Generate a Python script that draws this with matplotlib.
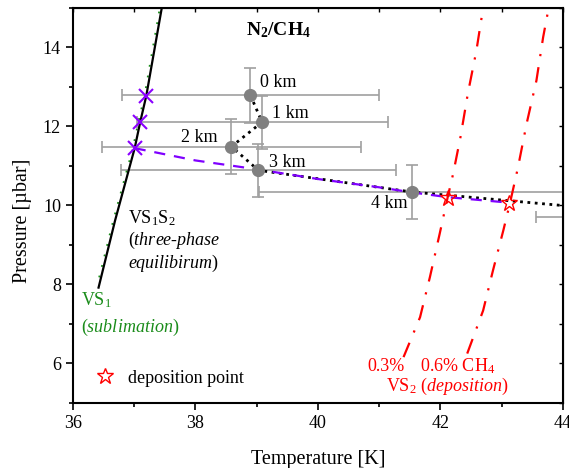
import numpy as np
import matplotlib
matplotlib.use('Agg')
import matplotlib.pyplot as plt
from matplotlib.ticker import MultipleLocator

plt.rcParams['font.family'] = 'Liberation Serif'
plt.rcParams['mathtext.fontset'] = 'custom'
plt.rcParams['mathtext.rm'] = 'Liberation Serif'
plt.rcParams['mathtext.it'] = 'Liberation Serif:italic'
plt.rcParams['mathtext.bf'] = 'Liberation Serif:bold'

# measured points (0..5 km), the 5 km one sits outside the window
alt_labels = ['0 km', '1 km', '2 km', '3 km', '4 km', '5 km']
meas_T = [38.90, 39.09, 38.59, 39.03, 41.54, 46.00]
meas_P = [12.79, 12.11, 11.49, 10.89, 10.34, 9.72]
meas_Terr = [2.10, 2.05, 2.12, 2.24, 2.50, 2.43]
meas_Perr = [0.70, 0.67, 0.69, 0.67, 0.68, 0.68]

# VS1S2 three-phase line and VS1 sublimation line
vs12_T = [36.42, 36.69, 37.01, 37.10, 37.20, 37.45]
vs12_P = [7.92, 9.62, 11.45, 12.11, 12.78, 14.98]
vs1_T = [36.43, 36.66, 36.98, 37.07, 37.17, 37.42]
vs1_P = [8.18, 9.62, 11.45, 12.11, 12.78, 15.00]

# intersections with the three-phase line
cross_T = [37.20, 37.10, 37.01]
cross_P = [12.78, 12.11, 11.45]

# VS2 deposition lines, 0.3 % and 0.6 % CH4
dep03_T = [41.40, 41.67, 41.83, 41.99, 42.12, 42.21, 42.33, 42.45, 42.59, 42.70]
dep03_P = [6.16, 7.17, 8.18, 9.28, 10.20, 10.80, 11.73, 12.83, 13.92, 15.00]
dep06_T = [42.44, 42.70, 42.86, 43.03, 43.14, 43.27, 43.41, 43.57, 43.68, 43.77]
dep06_P = [6.25, 7.34, 8.35, 9.37, 10.07, 10.97, 12.07, 13.16, 14.26, 15.00]

# purple dashed profile
prof_T = [37.01, 38.00, 39.03, 40.00, 41.00, 41.54, 42.12, 43.13]
prof_P = [11.45, 11.14, 10.91, 10.67, 10.46, 10.33, 10.21, 10.07]

star_T = [42.12, 43.13]
star_P = [10.20, 10.07]

fig = plt.figure(figsize=(5.69, 4.68), dpi=100)
ax = fig.add_axes([0.128, 0.139, 0.861, 0.844])

ax.errorbar(meas_T, meas_P, xerr=meas_Terr, yerr=meas_Perr, fmt='none',
            ecolor='#a0a0a0', elinewidth=1.2, capsize=4, capthick=1.2, zorder=2)
ax.plot(meas_T, meas_P, ':', color='black', lw=2, zorder=3)
ax.plot(meas_T, meas_P, 'o', color='#808080', ms=8.5, zorder=4)

ax.plot(vs1_T, vs1_P, color='#1a8c1a', lw=1.3, ls=(0, (1, 5)), zorder=3)
ax.plot(vs12_T, vs12_P, color='black', lw=1.6, zorder=3)

ax.plot(prof_T, prof_P, color='#7f00ff', lw=1.6, ls=(0, (5, 4)), zorder=3)

ax.plot(dep03_T, dep03_P, color='red', lw=1.6, ls=(0, (7, 5, 1, 5)), zorder=3)
ax.plot(dep06_T, dep06_P, color='red', lw=1.6, ls=(0, (7, 5, 1, 5)), zorder=3)

ax.plot(cross_T, cross_P, 'x', color='#8b00ff', ms=10, mew=1.5, zorder=5)
ax.plot(star_T, star_P, '*', color='red', mfc='none', ms=12, mew=1, zorder=5,
        label='deposition point')

# altitude labels
ax.text(39.05, 13.12, alt_labels[0], fontsize=13, va='center', ha='left')
ax.text(39.26, 12.33, alt_labels[1], fontsize=13, va='center', ha='left')
ax.text(38.37, 11.72, alt_labels[2], fontsize=13, va='center', ha='right')
ax.text(39.20, 11.08, alt_labels[3], fontsize=13, va='center', ha='left')
ax.text(41.47, 10.05, alt_labels[4], fontsize=13, va='center', ha='right')

ax.text(39.35, 14.45, r'$\mathbf{N_2/CH_4}$', fontsize=14, ha='center', va='center')

ax.text(36.90, 9.67, r'VS$_1$S$_2$', fontsize=13, va='center')
ax.text(36.90, 9.11, r'($\mathit{three}$-$\mathit{phase}$', fontsize=13, va='center')
ax.text(36.90, 8.52, r'$\mathit{equilibirum}$)', fontsize=13, va='center')

ax.text(36.14, 7.60, r'VS$_1$', fontsize=13, va='center', color='#1a8c1a')
ax.text(36.14, 6.92, r'($\mathit{sublimation}$)', fontsize=13, va='center',
        color='#1a8c1a')

ax.text(41.11, 5.92, '0.3%', fontsize=13, va='center', ha='center', color='red')
ax.text(41.67, 5.92, r'0.6% CH$_4$', fontsize=13, va='center', ha='left', color='red')
ax.text(41.11, 5.42, r'VS$_2$ ($\mathit{deposition}$)', fontsize=13, va='center',
        ha='left', color='red')

ax.legend(loc='lower left', bbox_to_anchor=(0.01, 0.0), frameon=False,
          fontsize=13, handlelength=1.2, handletextpad=0.7, numpoints=1)

ax.set_xlim(36, 44)
ax.set_ylim(5, 15)
ax.xaxis.set_major_locator(MultipleLocator(2))
ax.xaxis.set_minor_locator(MultipleLocator(1))
ax.yaxis.set_major_locator(MultipleLocator(2))
ax.yaxis.set_minor_locator(MultipleLocator(1))
ax.set_yticks([6, 8, 10, 12, 14])
ax.tick_params(which='both', direction='out', top=False, right=False,
               labelsize=13, width=1.2)
ax.tick_params(which='major', length=5)
ax.tick_params(which='minor', length=3)

# inward ticks on top and right
ax_top = ax.secondary_xaxis('top')
ax_top.xaxis.set_major_locator(MultipleLocator(1))
ax_top.tick_params(direction='in', length=3, width=1.0, labeltop=False)
ax_right = ax.secondary_yaxis('right')
ax_right.yaxis.set_major_locator(MultipleLocator(1))
ax_right.tick_params(direction='in', length=3, width=1.0, labelright=False)

for sp in ax.spines.values():
    sp.set_linewidth(1.5)

ax.set_xlabel('Temperature [K]', fontsize=14.5, labelpad=13)
ax.set_ylabel('Pressure [µbar]', fontsize=14.5)
ax.yaxis.set_label_coords(-0.083, 0.46)

fig.savefig('out.png', dpi=100)
